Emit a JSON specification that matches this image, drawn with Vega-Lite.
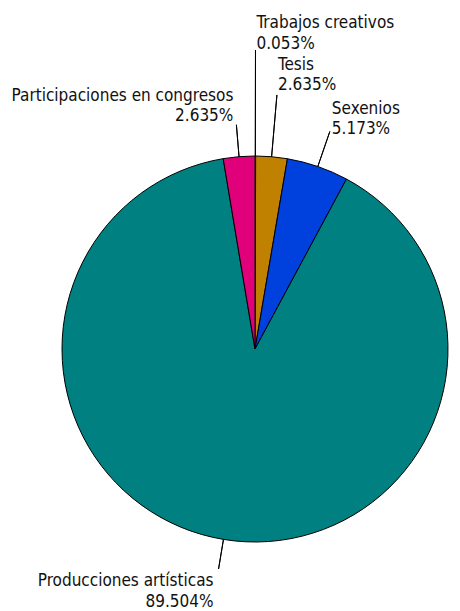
{
  "$schema": "https://vega.github.io/schema/vega-lite/v6.json",
  "width": 410,
  "height": 522,
  "autosize": {"type": "none"},
  "padding": {"left": 50, "top": 88, "right": 0, "bottom": 1},
  "background": "#ffffff",
  "config": {
    "view": {"stroke": null},
    "text": {"font": "DejaVu Sans Condensed, DejaVu Sans", "fontSize": 17, "fill": "#111111", "lineHeight": 20.5, "baseline": "alphabetic"}
  },
  "data": {
    "values": [
      {"categoria": "Trabajos creativos", "porcentaje": 0.053},
      {"categoria": "Tesis", "porcentaje": 2.635},
      {"categoria": "Sexenios", "porcentaje": 5.173},
      {"categoria": "Producciones artísticas", "porcentaje": 89.504},
      {"categoria": "Participaciones en congresos", "porcentaje": 2.635}
    ]
  },
  "transform": [
    {"stack": "porcentaje", "groupby": [], "sort": [{"field": "categoria", "order": "descending"}], "as": ["s0", "s1"]}
  ],
  "layer": [
    {
      "mark": {"type": "arc", "radius": 193, "stroke": "#000000", "strokeWidth": 1},
      "encoding": {
        "theta": {"field": "s0", "type": "quantitative", "stack": null, "scale": {"domain": [0, 100], "nice": false}},
        "theta2": {"field": "s1"},
        "color": {
          "field": "categoria",
          "type": "nominal",
          "scale": {
            "domain": ["Trabajos creativos", "Tesis", "Sexenios", "Producciones artísticas", "Participaciones en congresos"],
            "range": ["#d0d0d0", "#c08000", "#0040dd", "#008080", "#e0007a"]
          },
          "legend": null
        }
      }
    },
    {
      "transform": [
        {"fold": ["s0", "s1"], "as": ["extremo", "valor"]},
        {"aggregate": [{"op": "mean", "field": "valor", "as": "mid"}], "groupby": ["categoria", "porcentaje"]},
        {"filter": "datum.categoria === 'Trabajos creativos'"}
      ],
      "encoding": {"theta": {"field": "mid", "type": "quantitative", "stack": null}},
      "layer": [
        {"mark": {"type": "arc", "radius": 299, "radius2": 193, "fill": "transparent", "stroke": "#000000", "strokeWidth": 1}, "encoding": {"theta2": {"field": "mid"}}},
        {"mark": {"type": "text", "radius": 299, "align": "left", "dx": 1, "dy": -22, "text": {"expr": "[datum.categoria, format(datum.porcentaje, '.3f') + '%']"}}}
      ]
    },
    {
      "transform": [
        {"fold": ["s0", "s1"], "as": ["extremo", "valor"]},
        {"aggregate": [{"op": "mean", "field": "valor", "as": "mid"}], "groupby": ["categoria", "porcentaje"]},
        {"filter": "datum.categoria === 'Tesis'"}
      ],
      "encoding": {"theta": {"field": "mid", "type": "quantitative", "stack": null}},
      "layer": [
        {"mark": {"type": "arc", "radius": 255, "radius2": 193, "fill": "transparent", "stroke": "#000000", "strokeWidth": 1}, "encoding": {"theta2": {"field": "mid"}}},
        {"mark": {"type": "text", "radius": 255, "align": "left", "dx": 1, "dy": -25, "text": {"expr": "[datum.categoria, format(datum.porcentaje, '.3f') + '%']"}}}
      ]
    },
    {
      "transform": [
        {"fold": ["s0", "s1"], "as": ["extremo", "valor"]},
        {"aggregate": [{"op": "mean", "field": "valor", "as": "mid"}], "groupby": ["categoria", "porcentaje"]},
        {"filter": "datum.categoria === 'Sexenios'"}
      ],
      "encoding": {"theta": {"field": "mid", "type": "quantitative", "stack": null}},
      "layer": [
        {"mark": {"type": "arc", "radius": 230, "radius2": 193, "fill": "transparent", "stroke": "#000000", "strokeWidth": 1}, "encoding": {"theta2": {"field": "mid"}}},
        {"mark": {"type": "text", "radius": 230, "align": "left", "dx": 2, "dy": -18, "text": {"expr": "[datum.categoria, format(datum.porcentaje, '.3f') + '%']"}}}
      ]
    },
    {
      "transform": [
        {"fold": ["s0", "s1"], "as": ["extremo", "valor"]},
        {"aggregate": [{"op": "mean", "field": "valor", "as": "mid"}], "groupby": ["categoria", "porcentaje"]},
        {"filter": "datum.categoria === 'Producciones artísticas'"}
      ],
      "encoding": {"theta": {"field": "mid", "type": "quantitative", "stack": null}},
      "layer": [
        {"mark": {"type": "arc", "radius": 223, "radius2": 193, "fill": "transparent", "stroke": "#000000", "strokeWidth": 1}, "encoding": {"theta2": {"field": "mid"}}},
        {"mark": {"type": "text", "radius": 223, "align": "right", "dx": -5, "dy": 17, "text": {"expr": "[datum.categoria, format(datum.porcentaje, '.3f') + '%']"}}}
      ]
    },
    {
      "transform": [
        {"fold": ["s0", "s1"], "as": ["extremo", "valor"]},
        {"aggregate": [{"op": "mean", "field": "valor", "as": "mid"}], "groupby": ["categoria", "porcentaje"]},
        {"filter": "datum.categoria === 'Participaciones en congresos'"}
      ],
      "encoding": {"theta": {"field": "mid", "type": "quantitative", "stack": null}},
      "layer": [
        {"mark": {"type": "arc", "radius": 225, "radius2": 193, "fill": "transparent", "stroke": "#000000", "strokeWidth": 1}, "encoding": {"theta2": {"field": "mid"}}},
        {"mark": {"type": "text", "radius": 225, "align": "right", "dx": -3, "dy": -24, "text": {"expr": "[datum.categoria, format(datum.porcentaje, '.3f') + '%']"}}}
      ]
    }
  ]
}
